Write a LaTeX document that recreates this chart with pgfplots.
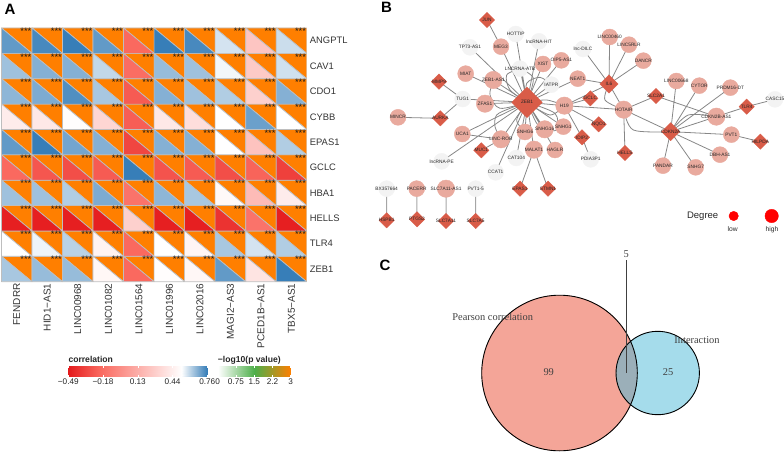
\documentclass[border=0pt]{standalone}
\usepackage{fontspec}
\setmainfont{Liberation Sans}
\newfontfamily\seriffont{Liberation Serif}
\usepackage{pgfplots}
\usepackage{pgfplotstable}
\pgfplotsset{compat=1.18}

\definecolor{gridgray}{RGB}{190,190,190}
\definecolor{edgegray}{RGB}{135,135,135}
\definecolor{nodepink}{RGB}{233,170,158}
\definecolor{nodewhite}{RGB}{243,243,243}
\definecolor{nodered}{RGB}{217,92,72}
\definecolor{vennpink}{RGB}{244,165,152}
\definecolor{vennblue}{RGB}{165,220,235}
\definecolor{venngray}{RGB}{155,175,185}

\pgfplotsset{
  colormap={corr}{rgb255(0cm)=(228,26,28) rgb255(0.29cm)=(250,105,95) rgb255(1.02cm)=(255,255,255) rgb255(1.25cm)=(55,126,184)},
  colormap={pval}{rgb255(0cm)=(255,255,255) rgb255(1.5cm)=(77,175,74) rgb255(3cm)=(255,127,0)},
  netnode/.style 2 args={only marks, mark=*, mark size=#1, mark options={draw=#2, fill=#2},
    point meta=explicit symbolic, nodes near coords,
    nodes near coords style={anchor=center, inner sep=0pt, text=black!85, font=\fontsize{4.8}{5}\selectfont}},
  netdiamond/.style={only marks, mark=square*, mark size=#1, mark options={draw=nodered, fill=nodered, rotate=45},
    point meta=explicit symbolic, nodes near coords,
    nodes near coords style={anchor=center, inner sep=0pt, text=black!85, font=\fontsize{4.8}{5}\selectfont}},
  vlabel/.style={only marks, mark=none, point meta=explicit symbolic, nodes near coords,
    nodes near coords style={anchor=center, inner sep=0pt, text=black!75, font=\seriffont\fontsize{10.4}{11}\selectfont}},
  starlabel/.style={draw=none, mark=none, nodes near coords={***},
    nodes near coords style={anchor=north east, inner sep=0pt, xshift=-.5pt, text=black!90, font=\fontsize{9.4}{9.4}\selectfont}},
  keytitle/.style={title style={at={(0,1)}, anchor=base west, yshift=-2.5pt, inner sep=0pt, font=\bfseries\fontsize{8.6}{9}\selectfont, text=black!85}},
}

% correlation, rows = genes, columns = lncRNAs
\pgfplotstableread[header=false]{
 .71  .74  .76  .71 -.20  .76  .74  .58  .25  .59
 .64  .67  .67  .60 -.18  .65  .64  .545 .27  .585
 .66  .68  .73  .63 -.25  .67  .64  .62  .30  .67
 .44  .42  .52  .33 -.24  .42  .37  .53  .70  .53
 .71  .76  .69  .67 -.33  .67  .67  .53  .24  .62
-.20 -.27 -.30 -.25  .76 -.28 -.25 -.30 -.22 -.35
 .64  .64  .62  .68 -.15  .66  .63  .50  .20  .44
-.47 -.47 -.47 -.47  .30 -.47 -.47 -.40 -.15 -.47
 .53  .55  .61  .47 -.20  .53  .48  .63  .58  .62
 .63  .65  .65  .49 -.20  .52  .49  .71  .40  .76
}\corrtable

% -log10(p), capped at 3 in every cell
\pgfplotstableread[header=false]{
3 3 3 3 3 3 3 3 3 3
3 3 3 3 3 3 3 3 3 3
3 3 3 3 3 3 3 3 3 3
3 3 3 3 3 3 3 3 3 3
3 3 3 3 3 3 3 3 3 3
3 3 3 3 3 3 3 3 3 3
3 3 3 3 3 3 3 3 3 3
3 3 3 3 3 3 3 3 3 3
3 3 3 3 3 3 3 3 3 3
3 3 3 3 3 3 3 3 3 3
}\ptable

\gdef\lowertri{}
\gdef\uppertri{}
\gdef\stars{}
\foreach \r in {0,...,9}{
  \foreach \c in {0,...,9}{
    \pgfmathtruncatemacro\rp{\r+1}
    \pgfmathtruncatemacro\cp{\c+1}
    \pgfplotstablegetelem{\r}{[index]\c}\of\corrtable
    \xdef\lowertri{\lowertri (\c,\r)[\pgfplotsretval] (\c,\rp)[\pgfplotsretval] (\cp,\rp)[\pgfplotsretval]}
    \pgfplotstablegetelem{\r}{[index]\c}\of\ptable
    \xdef\uppertri{\uppertri (\c,\r)[\pgfplotsretval] (\cp,\r)[\pgfplotsretval] (\cp,\rp)[\pgfplotsretval]}
    \xdef\stars{\stars (\cp,\r)}
  }
}

\begin{document}
\begin{tikzpicture}
\path[use as bounding box] (0,0) rectangle (784pt,452pt);

% A: p values, upper triangles
\begin{axis}[at={(1.5pt,424pt)}, anchor=north west, scale only axis, width=305.2pt, height=253.7pt,
    xmin=0, xmax=10, ymin=0, ymax=10, y dir=reverse, hide axis,
    colormap name=pval, point meta min=0, point meta max=3]
  \edef\temp{\noexpand\addplot[patch, shader=faceted, faceted color=gridgray, line width=.7pt, point meta=explicit] coordinates {\uppertri};}
  \temp
\end{axis}

% A: correlation, lower triangles
\begin{axis}[at={(1.5pt,424pt)}, anchor=north west, scale only axis, width=305.2pt, height=253.7pt,
    xmin=0, xmax=10, ymin=0, ymax=10, y dir=reverse, clip=false,
    colormap name=corr, point meta min=-0.49, point meta max=0.76,
    axis line style={draw=none}, major tick length=0pt,
    xtick={0.5,1.5,...,9.5}, ytick={0.5,1.5,...,9.5},
    xticklabels={FENDRR,HID1−AS1,LINC00968,LINC01082,LINC01564,LINC01996,LINC02016,MAGI2−AS3,PCED1B−AS1,TBX5−AS1},
    yticklabels={ANGPTL,CAV1,CDO1,CYBB,EPAS1,GCLC,HBA1,HELLS,TLR4,ZEB1},
    xtick pos=bottom, ytick pos=right, yticklabel pos=right,
    xticklabel style={rotate=90, anchor=east, xshift=1pt, font=\fontsize{10}{11}\selectfont, text=black!80, inner xsep=2.6pt},
    yticklabel style={anchor=west, font=\fontsize{9.4}{10}\selectfont, text=black!80, inner xsep=3pt}]
  \edef\temp{\noexpand\addplot[patch, shader=faceted, faceted color=gridgray, line width=.7pt, point meta=explicit] coordinates {\lowertri};}
  \temp
  \edef\temp{\noexpand\addplot[starlabel] coordinates {\stars};}
  \temp
\end{axis}

% A: colour keys
\begin{axis}[at={(68.3pt,86pt)}, anchor=north west, scale only axis, width=139pt, height=10.6pt,
    xmin=-0.49, xmax=0.76, ymin=0, ymax=1, axis on top, ytick=\empty,
    colormap name=corr, point meta min=-0.49, point meta max=0.76,
    axis line style={draw=none}, xtick={-0.49,-0.1775,0.135,0.4475,0.76},
    xticklabels={−0.49,−0.18,0.13,0.44,0.76},
    xtick pos=both, tick align=inside, major tick length=2pt, xtick style={white, line width=.6pt},
    xticklabel style={font=\fontsize{8.2}{9}\selectfont, text=black!85, inner sep=2pt},
    keytitle, title={correlation}]
  \addplot[patch, patch type=rectangle, shader=interp, point meta=x] coordinates {(-0.49,0) (0.76,0) (0.76,1) (-0.49,1)};
\end{axis}

\begin{axis}[at={(217.7pt,86pt)}, anchor=north west, scale only axis, width=73pt, height=10.6pt,
    xmin=0, xmax=3, ymin=0, ymax=1, axis on top, ytick=\empty,
    colormap name=pval, point meta min=0, point meta max=3,
    axis line style={draw=none}, xtick={0,0.75,1.5,2.25,3},
    xticklabels={0,0.75,1.5,2.2,3},
    xtick pos=both, tick align=inside, major tick length=2pt, xtick style={white, line width=.6pt},
    xticklabel style={font=\fontsize{8.2}{9}\selectfont, text=black!85, inner sep=2pt},
    keytitle, title={−log10(p value)}]
  \addplot[patch, patch type=rectangle, shader=interp, point meta=x] coordinates {(0,0) (3,0) (3,1) (0,1)};
\end{axis}

% B: network, in units of a third of a pixel
\begin{axis}[at={(360pt,452pt)}, anchor=north west, scale only axis, width=424pt, height=240pt,
    xmin=0, xmax=1272, ymin=0, ymax=720, y dir=reverse, hide axis, clip=false, clip mode=individual, unbounded coords=jump]
  % straight edges
  \addplot[edgegray, line width=.8pt, mark=none] coordinates {
    (501,307)(423,140) (nan,nan) (381,60)(423,140) (nan,nan) (501,307)(467,102) (nan,nan) (501,307)(537,124) (nan,nan)
    (501,307)(330,142) (nan,nan) (501,307)(317,221) (nan,nan) (501,307)(400,240) (nan,nan) (501,307)(480,206) (nan,nan)
    (501,307)(549,192) (nan,nan) (501,307)(604,181) (nan,nan) (501,307)(653,236) (nan,nan) (501,307)(574,254) (nan,nan)
    (501,307)(375,311) (nan,nan) (501,307)(308,297) (nan,nan) (501,307)(613,317) (nan,nan) (501,307)(610,380) (nan,nan)
    (501,307)(554,388) (nan,nan) (501,307)(495,396) (nan,nan) (501,307)(307,402) (nan,nan) (501,307)(423,418) (nan,nan)
    (501,307)(522,449) (nan,nan) (501,307)(585,450) (nan,nan) (501,307)(245,484) (nan,nan) (501,307)(469,474) (nan,nan)
    (501,307)(407,517) (nan,nan) (237,245)(308,297) (nan,nan) (241,355)(308,297) (nan,nan) (241,355)(114,352) (nan,nan)
    (747,252)(749,111) (nan,nan) (747,252)(807,134) (nan,nan) (747,252)(850,182) (nan,nan) (747,252)(669,147) (nan,nan)
    (747,252)(653,236) (nan,nan) (747,252)(613,317) (nan,nan) (747,252)(791,329) (nan,nan) (691,295)(613,317) (nan,nan)
    (716,373)(613,317) (nan,nan) (666,412)(613,317) (nan,nan) (666,412)(692,478) (nan,nan) (613,317)(791,329) (nan,nan)
    (791,329)(888,288) (nan,nan) (791,329)(795,459) (nan,nan) (791,329)(932,395) (nan,nan) (888,288)(1069,350) (nan,nan)
    (932,395)(949,243) (nan,nan) (932,395)(1018,257) (nan,nan) (932,395)(1111,263) (nan,nan) (932,395)(1069,350) (nan,nan)
    (932,395)(1160,320) (nan,nan) (932,395)(1114,404) (nan,nan) (932,395)(1080,464) (nan,nan) (932,395)(1007,502) (nan,nan)
    (932,395)(909,497) (nan,nan) (1160,320)(1245,298) (nan,nan) (1160,320)(1069,350) (nan,nan) (1114,404)(1201,425) (nan,nan)
    (364,451)(423,418) (nan,nan) (307,402)(423,418) (nan,nan) (522,449)(480,566) (nan,nan) (522,449)(564,566)
  };
  % curved edges
  \addplot[edgegray, line width=.8pt, smooth, mark=none] coordinates {(400,240)(390,285)(420,325)(501,307)};
  \addplot[edgegray, line width=.8pt, smooth, mark=none] coordinates {(480,206)(440,225)(450,270)(501,307)};
  \addplot[edgegray, line width=.8pt, smooth, mark=none] coordinates {(480,206)(520,235)(501,307)};
  \addplot[edgegray, line width=.8pt, smooth, mark=none] coordinates {(423,418)(405,380)(410,345)(450,325)(501,307)};
  \addplot[edgegray, line width=.8pt, smooth, mark=none] coordinates {(501,307)(530,370)(554,388)};
  \addplot[edgegray, line width=.8pt, smooth, mark=none] coordinates {(501,307)(560,300)(613,317)};
  \addplot[edgegray, line width=.8pt, smooth, mark=none] coordinates {(501,307)(570,345)(613,317)};
  \addplot[edgegray, line width=.8pt, smooth, mark=none] coordinates {(501,307)(500,250)(540,232)(574,254)};
  \addplot[edgegray, line width=.8pt, smooth, mark=none] coordinates {(501,307)(470,360)(495,396)};
  \addplot[edgegray, line width=.8pt, smooth, mark=none] coordinates {(501,307)(585,340)(590,390)(554,388)};
  \addplot[edgegray, line width=.8pt, smooth, mark=none] coordinates {(747,252)(735,300)(791,329)};
  \addplot[edgegray, line width=.8pt, smooth, mark=none] coordinates {(791,329)(820,390)(932,395)};
  \addplot[edgegray, line width=.8pt, smooth, mark=none] coordinates {(932,395)(985,345)(1069,350)};
  % separate pairs
  \addplot[gray!70, line width=1pt, mark=none] coordinates {(80,566)(80,661) (nan,nan) (170,566)(171,658) (nan,nan) (258,566)(258,663) (nan,nan) (347,566)(347,663)};

  \addplot[netnode={8pt}{nodewhite}] table[meta=label] {
x y label
467 102 HOTTIP
537 124 lncRNA-HIT
330 142 TP73-AS1
669 147 lnc-DILC
480 206 LNCRNA-ATB
574 254 IATPR
308 297 TUG1
245 484 lncRNA-PE
469 474 CAT104
407 517 CCAT1
692 478 PDIA3P1
1245 298 CASC15
80 566 BX357664
347 566 PVT1-5
};
  \addplot[netnode={8pt}{nodepink}] table[meta=label] {
x y label
423 140 MEG3
549 192 XIST
604 181 OIP5-AS1
317 221 MIAT
653 236 NEAT1
610 380 SNHG1
495 396 SNHG6
307 402 UCA1
585 450 HAGLR
114 352 MINCR
749 111 LINC00460
807 134 LINC5RLR
850 182 DANCR
949 243 LINC00668
1018 257 CYTOR
1111 263 PRDM16-DT
1114 404 PVT1
1080 464 DBH-AS1
1007 502 SNHG7
909 497 PANDAR
170 566 PACERR
};
  \addplot[netnode={8.7pt}{nodepink}] table[meta=label] {
x y label
400 240 ZEB1-AS1
375 311 ZFAS1
613 317 H19
554 388 SNHG16
423 418 LINC-ROR
522 449 MALAT1
791 329 HOTAIR
1069 350 CDKN2B-AS1
258 566 SLC7A11-AS1
};
  \addplot[netdiamond=5.4pt] table[meta=label] {
x y label
381 60 JUN
237 245 MMP9
241 355 AURKA
691 295 GCLC
716 373 NQO1
666 412 IDIP2
795 459 HELLS
888 288 SLC2A1
1160 320 TLR4
1201 425 HILPDA
364 451 MUC1
480 566 EPAS1
564 566 STMN1
80 661 HSPB1
171 658 PTGS2
258 663 SLC7A11
347 663 SLC7A5
};
  \addplot[netdiamond=6.4pt] table[meta=label] {
x y label
747 252 IL6
932 395 CDKN2A
};
  \addplot[netdiamond=10.8pt] table[meta=label] {
x y label
501 307 ZEB1
};
  % degree key
  \addplot[only marks, mark=*, mark size=4.7pt, mark options={fill=red, draw=red}] coordinates {(1121,648)};
  \addplot[only marks, mark=*, mark size=6.7pt, mark options={fill=red, draw=red}] coordinates {(1235,648)};
  \addplot[only marks, mark=none, point meta=explicit symbolic, nodes near coords,
    nodes near coords style={anchor=center, inner sep=0pt, text=black!85, font=\fontsize{6.7}{7}\selectfont}] table[meta=label] {
x y label
1118 688 low
1236 688 high
};
  \addplot[only marks, mark=none, point meta=explicit symbolic, nodes near coords,
    nodes near coords style={anchor=center, inner sep=0pt, text=black!85, font=\fontsize{9.5}{10}\selectfont}] table[meta=label] {
x y label
1028 648 Degree
};
\end{axis}

% C: Venn diagram, in pixels
\begin{axis}[at={(0pt,0pt)}, anchor=south west, scale only axis, width=784pt, height=452pt,
    xmin=0, xmax=784, ymin=0, ymax=452, y dir=reverse, hide axis, clip=false, clip mode=individual]
  \addplot[only marks, mark=*, mark size=77.8pt, mark options={fill=vennpink, draw=vennpink}] coordinates {(559.5,373)};
  \addplot[only marks, mark=*, mark size=41.7pt, mark options={fill=vennblue, draw=vennblue}] coordinates {(657.7,373)};
  \addplot[fill=venngray, draw=none, mark=none] coordinates {
    (630.6,341.4)(632.8,347)(634.7,353)(636.65,363)(637.3,373)(636.65,383)(634.7,393)(632.8,399)(630.6,404.6)
    (625.1,399)(621.1,393)(617.2,383)(616,373)(617.2,363)(621.1,353)(625.1,347)(630.6,341.4)};
  \addplot[only marks, mark=o, mark size=77.8pt, mark options={draw=black, line width=.9pt}] coordinates {(559.5,373)};
  \addplot[only marks, mark=o, mark size=41.7pt, mark options={draw=black, line width=.9pt}] coordinates {(657.7,373)};
  \addplot[black!75, line width=.8pt, mark=none] coordinates {(626.3,260)(626.3,373)};
  \addplot[vlabel] table[meta=label, col sep=comma] {
x,y,label
492.7,317,Pearson correlation
697,340,Interaction
548.7,372.3,99
668,372.3,25
626.3,254,5
};
\end{axis}

% panel letters
\node[font=\bfseries\fontsize{15}{15}\selectfont] at (10pt,443pt) {A};
\node[font=\bfseries\fontsize{15}{15}\selectfont] at (386.5pt,444.5pt) {B};
\node[font=\bfseries\fontsize{15}{15}\selectfont] at (385pt,187pt) {C};
\end{tikzpicture}
\end{document}
